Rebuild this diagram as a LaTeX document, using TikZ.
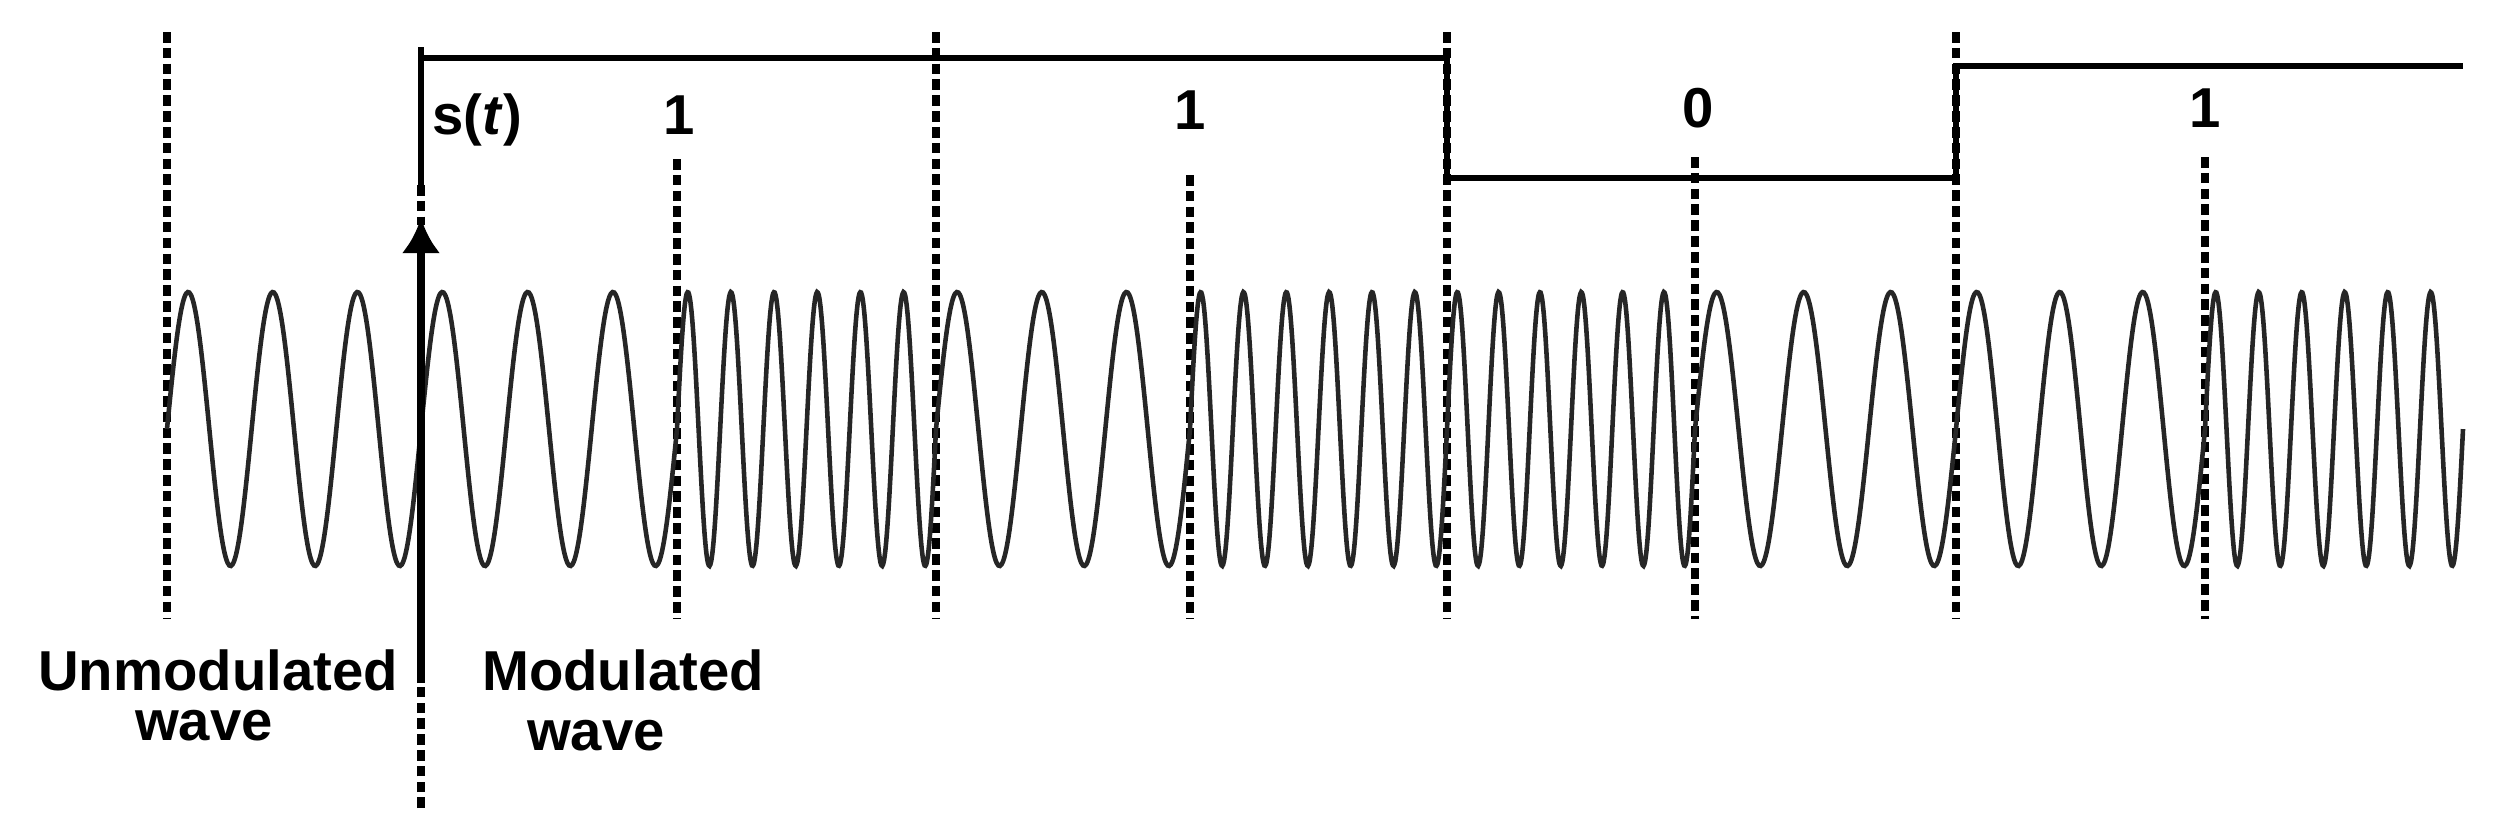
\documentclass[tikz,border=0pt]{standalone}
\usepackage{fontspec}
\setmainfont{Liberation Sans}
\usetikzlibrary{arrows.meta}
\begin{document}
\begin{tikzpicture}[x=0.01cm,y=-0.01cm,
  dotline/.style={line width=2.3pt,dash pattern=on 3pt off 1.5pt},
  sig/.style={line width=1.5pt},
  wav/.style={line width=1.3pt,black!85},
  lbl/.style={font=\fontsize{16}{18}\selectfont\bfseries,inner sep=0pt,align=center}]
\useasboundingbox (0,0) rectangle (2509,833);
% dotted lines
\foreach \x/\t in {167/32,936/32,1447/32,1956/32,677/159,1190/175,1695/157,2205/157}
  \draw[dotline] (\x,\t) -- (\x,619);
% carrier wave
\foreach \a/\b/\n in {167/421/3,421/677/3,677/936/6,936/1190/3,1190/1447/6,1447/1695/6,1695/1956/3,1956/2205/3,2205/2463/6}
  \draw[wav] plot[domain=\a:\b,samples=160,smooth] (\x,{429-137*sin(360*\n*((\x-\a)/(\b-\a)))});
% signal s(t)
\coordinate (s0) at (421,47);
\coordinate (s1) at (421,58);
\coordinate (s2) at (1447,58);
\coordinate (s3) at (1447,178);
\coordinate (s4) at (1956,178);
\coordinate (s5) at (1956,66);
\coordinate (s6) at (2463,66);
\draw[sig] (421,185) -- (s0) (s1) -- (s2) -- (s3) -- (s4) -- (s5) -- (s6);
% arrow line
\coordinate (ab) at (421,808);
\coordinate (am) at (421,683);
\coordinate (at) at (421,218);
\draw[dotline] (ab) -- (am);
\draw[dotline] (421,185) -- (421,225);
\draw[line width=2.3pt,-{Latex[length=10pt,width=11pt]}] (am) -- (at);
% labels
\node[lbl,anchor=west] (st) at (432,120) {s(\textit{t})};
\node[lbl] (b1) at (679,115) {1};
\node[lbl] (b2) at (1190,110) {1};
\node[lbl] (b3) at (1698,108) {0};
\node[lbl] (b4) at (2205,108) {1};
\node[lbl] (um) at (218,670) {Unmodulated};
\node[lbl] (uw) at (204,726) {wave};
\node[lbl] (mm) at (623,670) {Modulated};
\node[lbl] (mw) at (596,736) {wave};
\end{tikzpicture}
\end{document}
